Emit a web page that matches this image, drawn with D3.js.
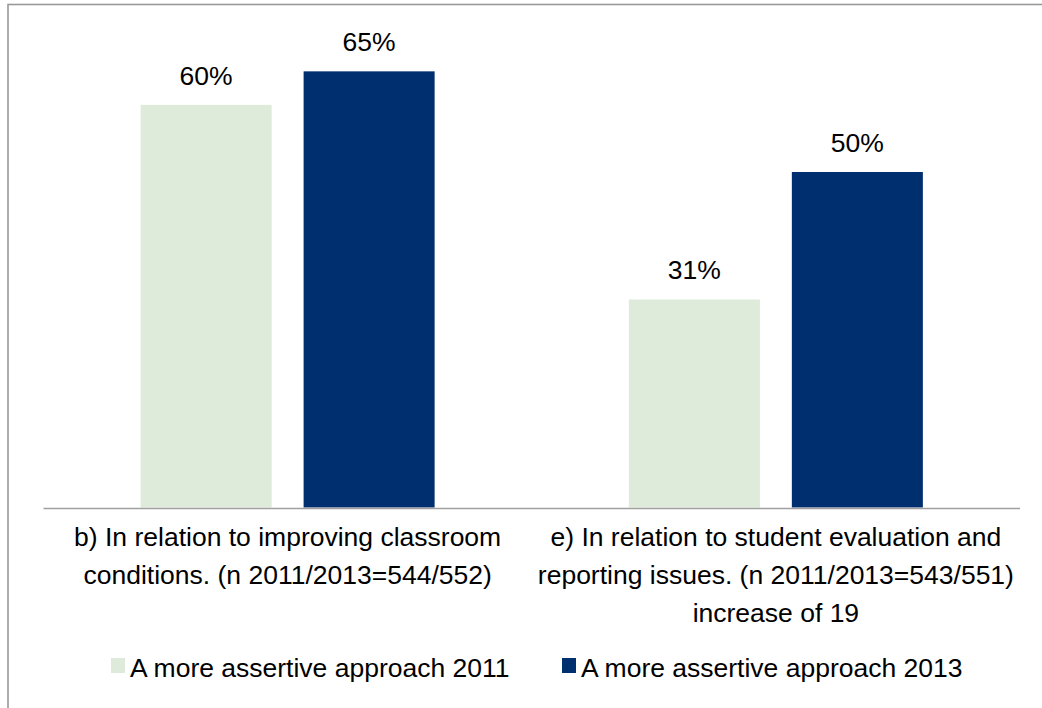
<!DOCTYPE html>
<html>
<head>
<meta charset="utf-8">
<script src="https://cdn.jsdelivr.net/npm/d3@7"></script>
<style>
  html, body { margin: 0; padding: 0; background: #fff; }
  svg { display: block; }
  text { font-family: "Liberation Sans", Arial, sans-serif; fill: #000; }
</style>
</head>
<body>
<svg id="chart" width="1042" height="708"></svg>
<script>
// Categories (each label is split into its display lines)
const categories = ["b", "e"];
const categoryLines = [
  ["b) In relation to improving classroom", "conditions. (n 2011/2013=544/552)"],
  ["e) In relation to student evaluation and", "reporting issues. (n 2011/2013=543/551)", "increase of 19"]
];
const seriesNames = ["A more assertive approach 2011", "A more assertive approach 2013"];
const values2011 = [0.60, 0.31];
const values2013 = [0.65, 0.50];
const seriesColors = ["#dfebda", "#002f6f"];

const svg = d3.select("#chart");
const W = 1042, H = 708;
const fontSize = 26.5;

// Frame around the chart area
svg.append("rect")
  .attr("x", 8).attr("y", 4.5)
  .attr("width", W + 20).attr("height", H + 20)
  .attr("fill", "none").attr("stroke", "#999").attr("stroke-width", 1.6);

const plot = { left: 43.5, right: 1020, top: 37.8, bottom: 507.5 };

const x0 = d3.scaleBand().domain(categories).range([plot.left, plot.right]);
const x1 = d3.scaleBand().domain(seriesNames).range([0, x0.bandwidth()])
  .paddingInner(0.196).paddingOuter(0.596);
const y = d3.scaleLinear().domain([0, 0.7]).range([plot.bottom, plot.top]);

const rows = categories.map((c, i) => ({
  cat: c,
  vals: [values2011[i], values2013[i]]
}));

const groups = svg.append("g").selectAll("g")
  .data(rows).join("g")
  .attr("transform", d => `translate(${x0(d.cat)},0)`);

groups.selectAll("rect")
  .data(d => d.vals.map((v, j) => ({ v, s: seriesNames[j], j })))
  .join("rect")
  .attr("x", d => x1(d.s))
  .attr("width", x1.bandwidth())
  .attr("y", d => y(d.v))
  .attr("height", d => y(0) - y(d.v))
  .attr("fill", d => seriesColors[d.j]);

// Value labels above bars
groups.selectAll("text.val")
  .data(d => d.vals.map((v, j) => ({ v, s: seriesNames[j] })))
  .join("text")
  .attr("class", "val")
  .attr("x", d => x1(d.s) + x1.bandwidth() / 2)
  .attr("y", d => y(d.v) - 20)
  .attr("text-anchor", "middle")
  .attr("font-size", fontSize)
  .text(d => d3.format(".0%")(d.v));

// Baseline
svg.append("line")
  .attr("x1", plot.left).attr("x2", plot.right)
  .attr("y1", plot.bottom + 1).attr("y2", plot.bottom + 1)
  .attr("stroke", "#a0a0a0").attr("stroke-width", 1.5);

// Category labels
const catText = svg.append("g").selectAll("text")
  .data(categories).join("text")
  .attr("text-anchor", "middle")
  .attr("font-size", fontSize)
  .attr("transform", d => `translate(${x0(d) + x0.bandwidth() / 2},546)`);
catText.selectAll("tspan")
  .data((d, i) => categoryLines[i])
  .join("tspan")
  .attr("x", 0)
  .attr("y", (d, i) => i * 38)
  .text(d => d);

// Legend
const legendX = [111, 562];
const legend = svg.append("g").selectAll("g")
  .data(seriesNames).join("g")
  .attr("transform", (d, i) => `translate(${legendX[i]},658)`);
legend.append("rect")
  .attr("width", 14).attr("height", 15)
  .attr("fill", (d, i) => seriesColors[i]);
legend.append("text")
  .attr("x", 19).attr("y", 19)
  .attr("font-size", fontSize)
  .text(d => d);
</script>
</body>
</html>
